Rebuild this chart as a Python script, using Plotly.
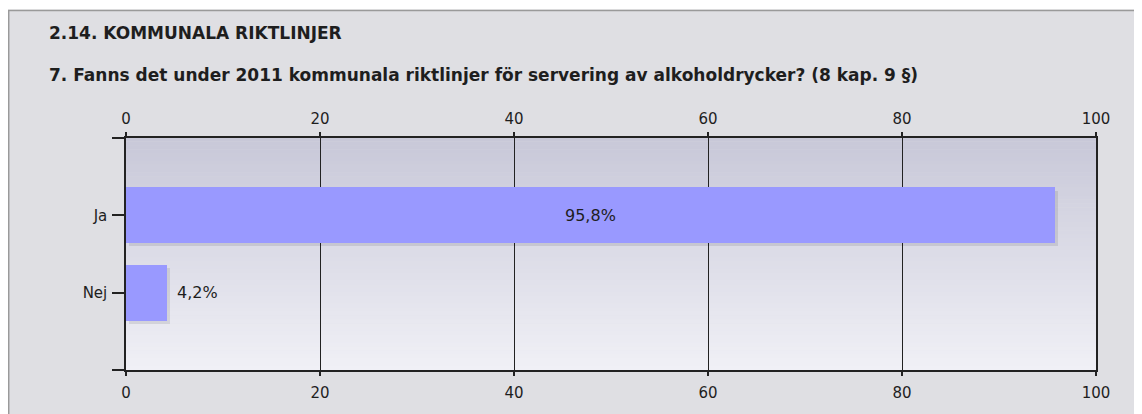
import plotly.graph_objects as go

# ---- data ----
categories = ["Ja", "Nej"]
values = [95.8, 4.2]
x_ticks = [0, 20, 40, 60, 80, 100]
title_1 = "2.14. KOMMUNALA RIKTLINJER"
title_2 = "7. Fanns det under 2011 kommunala riktlinjer för servering av alkoholdrycker? (8 kap. 9 §)"

labels = [f"{v:.1f}%".replace(".", ",") for v in values]
ypos = list(range(len(categories)))

# ---- layout geometry (page pixels; the page body adds an 8px offset) ----
OX, OY = 8, 8
W, H = 1142 - OX, 414 - OY
L, R, T, B = 118, 46, 130, 44
PW, PH = W - L - R, H - T - B


def px_x(px):
    return (px - OX - L) / PW


def px_y(py):
    return (H - B - (py - OY)) / PH


FONT = "DejaVu Sans"
TXT = "#1e1e1e"
BOX = "#dfdfe3"

fig = go.Figure()

# shadow of bars
fig.add_trace(go.Bar(
    y=ypos, x=values, orientation="h", base=0.3,
    width=0.72, offset=-0.36 + 0.04,
    marker=dict(color="rgba(0,0,0,0.09)", line=dict(width=0)),
    hoverinfo="skip", showlegend=False,
))
# bars
fig.add_trace(go.Bar(
    y=ypos, x=values, orientation="h",
    width=0.72,
    marker=dict(color="#9999ff", line=dict(width=0)),
    hoverinfo="skip", showlegend=False,
))
# invisible trace for bottom axis
fig.add_trace(go.Scatter(x=[0, 100], y=[0, 0], xaxis="x2", mode="markers",
                         marker=dict(opacity=0), hoverinfo="skip", showlegend=False))

shapes = []
# white outer margin + box border
shapes.append(dict(type="rect", xref="paper", yref="paper", x0=px_x(-5), x1=px_x(1150),
                   y0=px_y(9.5), y1=px_y(-5), fillcolor="white", line=dict(width=0), layer="below"))
shapes.append(dict(type="line", xref="paper", yref="paper", x0=px_x(8), x1=px_x(1150),
                   y0=px_y(10.5), y1=px_y(10.5), line=dict(color="#9a9a9a", width=1.5), layer="below"))
shapes.append(dict(type="line", xref="paper", yref="paper", x0=px_x(8.7), x1=px_x(8.7),
                   y0=px_y(10), y1=px_y(420), line=dict(color="#9a9a9a", width=1.5), layer="below"))

# gradient plot background
n = 60
c_top = (200, 200, 216)
c_bot = (240, 240, 246)
for i in range(n):
    f = i / (n - 1)
    c = tuple(round(c_top[k] + (c_bot[k] - c_top[k]) * f) for k in range(3))
    shapes.append(dict(type="rect", xref="paper", yref="paper", x0=0, x1=1,
                       y0=1 - (i + 1) / n, y1=1 - i / n + 0.002,
                       fillcolor=f"rgb{c}", line=dict(width=0), layer="below"))

axis_font = dict(family=FONT, size=15, color=TXT)

annotations = [
    dict(text=f"<b>{title_1}</b>", xref="paper", yref="paper", x=px_x(47), y=px_y(33),
         xanchor="left", yanchor="middle", showarrow=False,
         font=dict(family=FONT, size=17, color=TXT)),
    dict(text=f"<b>{title_2}</b>", xref="paper", yref="paper", x=px_x(47), y=px_y(75),
         xanchor="left", yanchor="middle", showarrow=False,
         font=dict(family=FONT, size=17, color=TXT)),
]
for yi, v, lab in zip(ypos, values, labels):
    inside = v > 20
    annotations.append(dict(
        text=lab, xref="x", yref="y", x=v / 2 if inside else v, y=yi,
        xanchor="center" if inside else "left", yanchor="middle",
        xshift=0 if inside else 8, showarrow=False,
        font=dict(family=FONT, size=16, color=TXT),
    ))

fig.update_layout(
    width=W, height=H,
    margin=dict(l=L, r=R, t=T, b=B, pad=0),
    paper_bgcolor=BOX,
    plot_bgcolor="rgba(0,0,0,0)",
    barmode="overlay",
    bargap=0,
    shapes=shapes,
    annotations=annotations,
    xaxis=dict(
        side="top", range=[0, 100], tickvals=x_ticks, ticks="outside", ticklen=4,
        tickcolor="#222", tickwidth=1.5, showline=True, linecolor="#222", linewidth=1.5,
        mirror="ticks", showgrid=True, gridcolor="#222", gridwidth=1.3, zeroline=False,
        tickfont=axis_font, ticklabelstandoff=2, fixedrange=True,
    ),
    xaxis2=dict(
        side="bottom", overlaying="x", matches="x", range=[0, 100], tickvals=x_ticks,
        ticks="outside", ticklen=4, tickcolor="#222", tickwidth=1.5, showgrid=False,
        showline=False, zeroline=False, tickfont=axis_font, anchor="y",
        ticklabelstandoff=5,
    ),
    yaxis=dict(
        range=[len(categories), -1],
        tickvals=[-1] + ypos + [len(categories)],
        ticktext=[""] + categories + [""],
        ticks="outside", ticklen=12, tickcolor="#222", tickwidth=1.5,
        showline=True, linecolor="#222", linewidth=1.5, mirror=True,
        showgrid=False, zeroline=False, tickfont=axis_font, ticklabelstandoff=2,
    ),
)

fig.write_html("out.html")
